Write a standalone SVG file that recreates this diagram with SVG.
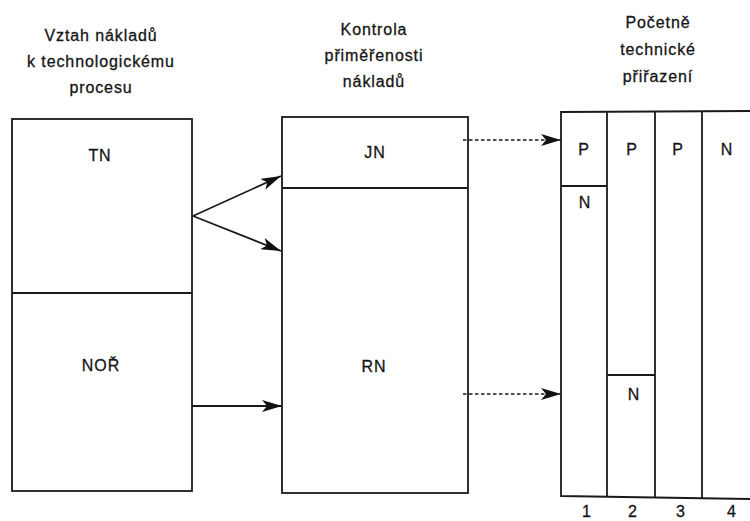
<svg xmlns="http://www.w3.org/2000/svg" width="750" height="521" viewBox="0 0 750 521">
  <style>
    .t { font-family: "Liberation Sans", Arial, sans-serif; font-size: 16px; letter-spacing: 0.9px; fill: #151515; stroke: #151515; stroke-width: 0.3; text-anchor: middle; }
    .box { fill: none; stroke: #1a1a1a; stroke-width: 1.8; }
    .conn { fill: none; stroke: #1a1a1a; stroke-width: 1.8; }
    .dash { stroke-dasharray: 3.5 2.5; stroke-width: 1.5; }
  </style>
  <defs>
    <marker id="arr" viewBox="0 0 20 12" refX="20" refY="6" markerWidth="20" markerHeight="12" markerUnits="userSpaceOnUse" orient="auto">
      <path d="M0,0 L20,6 L0,12 L5,6 z" fill="#111" stroke="none"/>
    </marker>
  </defs>
  <rect width="750" height="521" fill="#ffffff"/>

  <g id="node-left">
    <text class="t" x="101" y="41">Vztah nákladů</text>
    <text class="t" x="101" y="67">k technologickému</text>
    <text class="t" x="101" y="93">procesu</text>
    <rect class="box" x="12" y="119" width="180" height="372"/>
    <line class="box" x1="12" y1="293" x2="192" y2="293"/>
    <text class="t" x="100" y="161">TN</text>
    <text class="t" x="101" y="371">NOŘ</text>
  </g>

  <g id="node-middle">
    <text class="t" x="374" y="35">Kontrola</text>
    <text class="t" x="374" y="61">přiměřenosti</text>
    <text class="t" x="374" y="87">nákladů</text>
    <rect class="box" x="282" y="117" width="186" height="376"/>
    <line class="box" x1="282" y1="188" x2="468" y2="188"/>
    <text class="t" x="375" y="158">JN</text>
    <text class="t" x="374" y="372">RN</text>
  </g>

  <g id="node-right">
    <text class="t" x="658" y="28">Početně</text>
    <text class="t" x="658" y="55">technické</text>
    <text class="t" x="658" y="82">přiřazení</text>
    <path class="box" d="M750,111 L561,112 L561,496 L750,499"/>
    <line class="box" x1="607" y1="112" x2="607" y2="497"/>
    <line class="box" x1="655" y1="112" x2="655" y2="498"/>
    <line class="box" x1="702" y1="111" x2="702" y2="499"/>
    <line class="box" x1="561" y1="186" x2="607" y2="186"/>
    <line class="box" x1="607" y1="375" x2="655" y2="375"/>
    <text class="t" x="584" y="155">P</text>
    <text class="t" x="632" y="155">P</text>
    <text class="t" x="678" y="155">P</text>
    <text class="t" x="727" y="155">N</text>
    <text class="t" x="585" y="208">N</text>
    <text class="t" x="634" y="400">N</text>
    <text class="t" x="587" y="517">1</text>
    <text class="t" x="633" y="517">2</text>
    <text class="t" x="681" y="517">3</text>
    <text class="t" x="732" y="517">4</text>
  </g>

  <g id="connectors">
    <line class="conn" x1="193" y1="216" x2="281" y2="176" marker-end="url(#arr)"/>
    <line class="conn" x1="193" y1="216" x2="281" y2="251" marker-end="url(#arr)"/>
    <line class="conn" x1="192" y1="406" x2="282" y2="406" marker-end="url(#arr)"/>
    <line class="conn dash" x1="463" y1="140" x2="561" y2="140" marker-end="url(#arr)"/>
    <line class="conn dash" x1="463" y1="394" x2="561" y2="394" marker-end="url(#arr)"/>
  </g>
</svg>
